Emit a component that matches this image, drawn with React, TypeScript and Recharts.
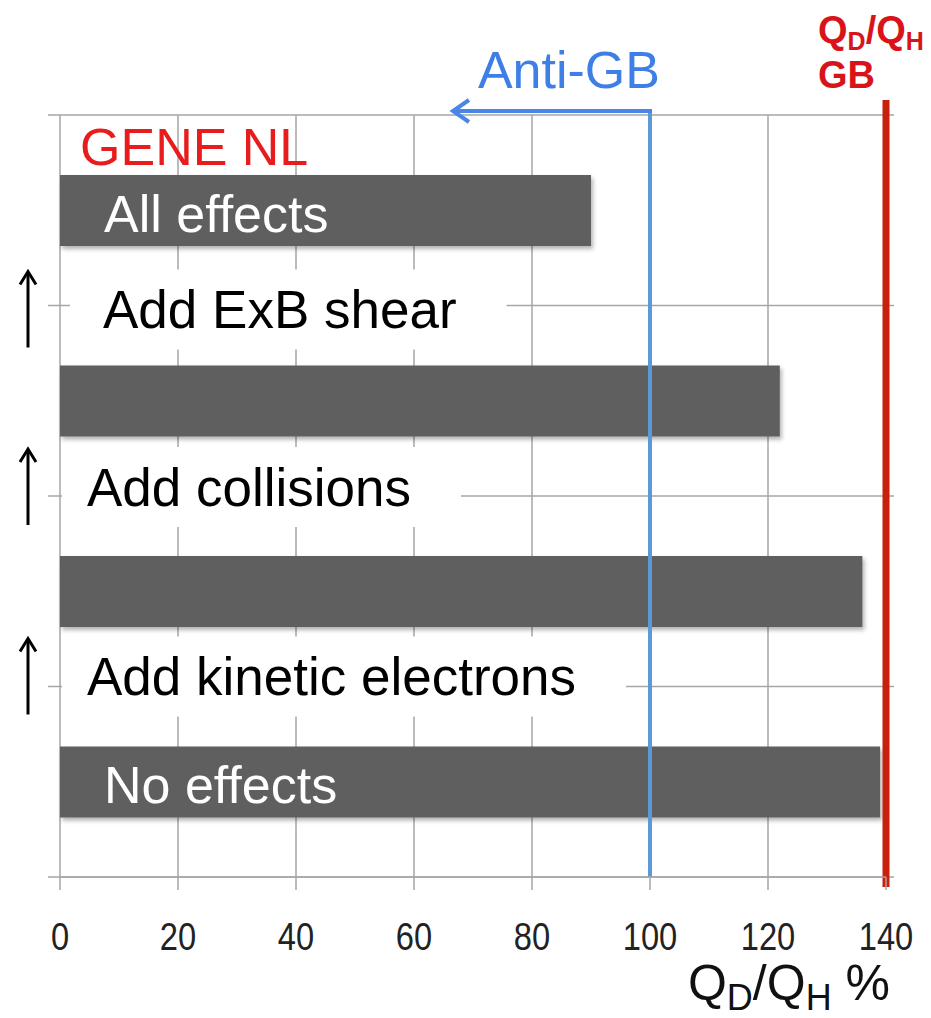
import React from "react";
import {
  BarChart,
  Bar,
  XAxis,
  YAxis,
  CartesianGrid,
  ReferenceLine,
  LabelList,
} from "recharts";

// runs from top (all physics on) to bottom (none)
const runs = ["All effects", "Collisions + kinetic electrons", "Kinetic electrons", "No effects"];
const runLabels = ["All effects", "", "", "No effects"];
const fluxRatio = [90, 122, 136, 139];

// physics added going from one run (below) to the next (above)
const steps = ["Add ExB shear", "Add collisions", "Add kinetic electrons"];

const xTicks = [0, 20, 40, 60, 80, 100, 120, 140];
const ANTI_GB = 100;
const GB = 140;

const data = runs.map((run, i) => ({ run, label: runLabels[i], value: fluxRatio[i] }));

const SANS = '"Liberation Sans", Arial, Helvetica, sans-serif';
const GRID = "#a6a6a6";
const NOTE_SIZE = 53;

// small per-step nudges (indent, vertical shift) of the notes
const stepLayout = [
  { dx: 43, dy: 4 },
  { dx: 27, dy: -9 },
  { dx: 27, dy: -10 },
];

let ctx: CanvasRenderingContext2D | null = null;
const textWidth = (s: string, font: string) => {
  if (!ctx) ctx = document.createElement("canvas").getContext("2d");
  if (!ctx) return s.length * 25;
  ctx.font = font;
  return ctx.measureText(s).width;
};

const BarShape = (p: any) => (
  <rect x={p.x} y={p.y} width={p.width} height={p.height} fill="#5f5f5f" filter="url(#barShadow)" />
);

const RunLabel = (p: any) => {
  if (!p.value) return null;
  return (
    <text
      x={p.x + 44}
      y={p.y + p.height / 2 + 3}
      fill="#ffffff"
      fontSize={52}
      fontFamily={SANS}
      dominantBaseline="central"
    >
      {p.value}
    </text>
  );
};

// category boundary: grid line plus the small tick left of the axis
const BoundaryLine = (p: any, first: boolean) => {
  const left = Math.min(p.x1, p.x2);
  const right = Math.max(p.x1, p.x2);
  return (
    <g>
      <line x1={left - 12} y1={p.y1} x2={right + 8} y2={p.y1} stroke={GRID} strokeWidth={1.5} />
      {first && (
        <text x={left + 20} y={p.y1 + 50} fontSize={52} fontFamily={SANS} fill="#e81c1c">
          GENE NL
        </text>
      )}
    </g>
  );
};

const StepNote = (p: any, i: number) => {
  const left = Math.min(p.x1, p.x2);
  const cy = p.y1 + stepLayout[i].dy;
  const tx = left + stepLayout[i].dx;
  const w = textWidth(steps[i], `${NOTE_SIZE}px ${SANS}`);
  const boxLeft = left + (i === 0 ? 10 : 2);
  return (
    <g>
      <rect x={boxLeft} y={cy - 40} width={tx + w + 50 - boxLeft} height={80} fill="#ffffff" />
      <text x={tx} y={cy} fontSize={NOTE_SIZE} fontFamily={SANS} fill="#000" dominantBaseline="central">
        {steps[i]}
      </text>
      <line x1={28} y1={cy + 38} x2={28} y2={cy - 37} stroke="#000" strokeWidth={3} />
      <polyline
        points={`${20},${cy - 25} ${28},${cy - 38} ${36},${cy - 25}`}
        fill="none"
        stroke="#000"
        strokeWidth={3}
      />
    </g>
  );
};

const AntiGbShape = (p: any) => {
  const x = p.x1;
  const top = Math.min(p.y1, p.y2) - 4;
  const bottom = Math.max(p.y1, p.y2);
  const tip = x - 198;
  return (
    <g>
      <line x1={x} y1={top} x2={x} y2={bottom} stroke="#5b9bd5" strokeWidth={4} />
      <line x1={x + 2} y1={top} x2={tip} y2={top} stroke="#4a86e8" strokeWidth={4} />
      <polyline
        points={`${tip + 17},${top - 11} ${tip + 1},${top} ${tip + 17},${top + 11}`}
        fill="none"
        stroke="#4a86e8"
        strokeWidth={4}
      />
      <text x={x + 10} y={top - 23} textAnchor="end" fontSize={52} fontFamily={SANS} fill="#3d7fe6">
        Anti-GB
      </text>
    </g>
  );
};

const GbShape = (p: any) => {
  const x = p.x1;
  const top = Math.min(p.y1, p.y2);
  const bottom = Math.max(p.y1, p.y2);
  return (
    <g>
      <line x1={x} y1={top - 15} x2={x} y2={bottom + 10} stroke="#c8200c" strokeWidth={7} />
      <text x={x - 68} y={top - 72} fontSize={38} fontWeight="bold" fontFamily={SANS} fill="#d8141a">
        Q<tspan fontSize={25} dy={7}>D</tspan>
        <tspan dy={-7}>/Q</tspan>
        <tspan fontSize={25} dy={7}>H</tspan>
      </text>
      <text x={x - 68} y={top - 27} fontSize={38} fontWeight="bold" fontFamily={SANS} fill="#d8141a">
        GB
      </text>
    </g>
  );
};

// narrow tick labels, like the original's Calibri
const XTick = (p: any) => (
  <g transform={`translate(${p.x},${p.y})`}>
    <text
      transform="scale(0.86,1)"
      textAnchor="middle"
      dy="0.71em"
      fontSize={38}
      fontFamily={SANS}
      fill="#222"
    >
      {p.payload.value}
    </text>
  </g>
);

const XTitle = (p: any) => {
  const vb = p.viewBox || {};
  return (
    <text
      x={vb.x + vb.width + 4}
      y={vb.y + 123}
      textAnchor="end"
      fontSize={50}
      fontFamily={SANS}
      fill="#111"
    >
      Q<tspan fontSize={36} dy={10}>D</tspan>
      <tspan dy={-10}>/Q</tspan>
      <tspan fontSize={36} dy={10}>H</tspan>
      <tspan dy={-10}> %</tspan>
    </text>
  );
};

export default function App() {
  const last = runs[runs.length - 1];
  return (
    <div style={{ position: "absolute", left: 0, top: 0, background: "#fff" }}>
      <BarChart
        width={931}
        height={1018}
        data={data}
        layout="vertical"
        margin={{ top: 115, right: 45, bottom: 41, left: 60 }}
      >
        <defs>
          <filter id="barShadow" x="-5%" y="-20%" width="115%" height="160%">
            <feDropShadow dx="2" dy="3" stdDeviation="2" floodColor="#000" floodOpacity="0.3" />
          </filter>
        </defs>
        <CartesianGrid horizontal={false} stroke={GRID} strokeWidth={1.5} />
        <XAxis
          type="number"
          domain={[0, 140]}
          ticks={xTicks}
          height={100}
          tickSize={13}
          tickMargin={33}
          axisLine={{ stroke: GRID, strokeWidth: 1.5 }}
          tickLine={{ stroke: GRID, strokeWidth: 1.5 }}
          tick={<XTick />}
          label={<XTitle />}
        />
        <YAxis type="category" dataKey="run" hide />
        {runs.map((r, i) => (
          <ReferenceLine
            key={`b-${r}`}
            y={r}
            position="start"
            ifOverflow="visible"
            shape={(p: any) => BoundaryLine(p, i === 0)}
          />
        ))}
        <ReferenceLine
          y={last}
          position="end"
          ifOverflow="visible"
          shape={(p: any) => BoundaryLine(p, false)}
        />
        {steps.map((s, i) => (
          <ReferenceLine
            key={s}
            y={runs[i + 1]}
            position="start"
            ifOverflow="visible"
            shape={(p: any) => StepNote(p, i)}
          />
        ))}
        <Bar dataKey="value" barSize={71} shape={BarShape} isAnimationActive={false}>
          <LabelList dataKey="label" content={RunLabel} />
        </Bar>
        <ReferenceLine x={ANTI_GB} ifOverflow="visible" shape={AntiGbShape} />
        <ReferenceLine x={GB} ifOverflow="visible" shape={GbShape} />
      </BarChart>
    </div>
  );
}
